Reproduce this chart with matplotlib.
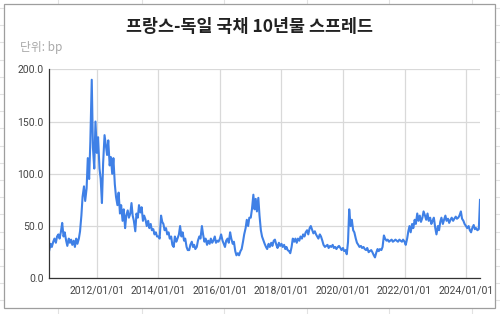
import matplotlib
matplotlib.use("Agg")
import matplotlib.pyplot as plt
import matplotlib.dates as mdates
import pandas as pd
from matplotlib.patches import Rectangle
from matplotlib.lines import Line2D

plt.rcParams['font.family'] = ['Noto Sans CJK KR', 'DejaVu Sans']

title = "프랑스-독일 국채 10년물 스프레드"
unit_label = "단위: bp"

# semi-monthly readings (1st and 15th of each month), starting 2010-06-15, unit: bp
spread_2010 = [27, 33, 30, 35, 38, 34, 40, 42, 38, 45, 53, 40, 44]
spread_2011 = [36, 31, 38, 34, 37, 32, 36, 30, 38, 33, 38, 45,
               60, 78, 88, 74, 86, 115, 95, 130, 190, 125, 105, 150]
spread_2012 = [120, 135, 105, 95, 72, 110, 137, 128, 118, 132, 108, 116,
               100, 115, 90, 78, 70, 82, 62, 70, 55, 66, 48, 60]
spread_2013 = [65, 58, 62, 72, 60, 55, 45, 62, 58, 70, 63, 68,
               55, 60, 56, 50, 55, 48, 52, 46, 47, 42, 44, 40]
spread_2014 = [40, 38, 60, 54, 52, 46, 48, 42, 44, 38, 40, 32,
               30, 40, 35, 38, 42, 50, 40, 44, 36, 38, 30, 27]
spread_2015 = [27, 32, 35, 30, 32, 28, 30, 36, 40, 38, 50, 42,
               35, 38, 32, 36, 33, 38, 34, 36, 40, 34, 36, 35]
spread_2016 = [38, 42, 36, 33, 30, 36, 38, 34, 44, 38, 33, 35,
               26, 22, 24, 22, 26, 28, 35, 42, 48, 56, 50, 58]
spread_2017 = [58, 66, 80, 66, 76, 64, 77, 60, 46, 40, 36, 33,
               30, 28, 33, 30, 34, 31, 36, 37, 32, 29, 34, 31]
spread_2018 = [33, 30, 32, 28, 30, 27, 26, 24, 30, 38, 35, 38,
               34, 38, 36, 40, 38, 42, 40, 44, 46, 42, 48, 50]
spread_2019 = [46, 43, 45, 42, 40, 38, 42, 40, 36, 32, 30, 31,
               32, 29, 31, 30, 32, 29, 30, 28, 30, 31, 29, 27]
spread_2020 = [29, 26, 27, 23, 35, 66, 50, 56, 46, 44, 38, 34,
               32, 30, 31, 29, 30, 28, 27, 29, 25, 26, 27, 25]
spread_2021 = [22, 20, 25, 28, 26, 28, 27, 30, 41, 38, 36, 37,
               35, 36, 37, 35, 36, 37, 36, 35, 37, 36, 35, 37]
spread_2022 = [35, 32, 38, 45, 50, 44, 52, 48, 56, 52, 62, 55,
               60, 54, 58, 64, 60, 56, 62, 55, 58, 52, 55, 58]
spread_2023 = [48, 42, 50, 46, 54, 58, 52, 56, 60, 55, 57, 53,
               56, 58, 55, 57, 59, 57, 58, 60, 64, 57, 55, 52]
spread_2024 = [50, 48, 50, 46, 44, 48, 51, 47, 48, 46, 47, 75]

values = (spread_2010 + spread_2011 + spread_2012 + spread_2013 + spread_2014
          + spread_2015 + spread_2016 + spread_2017 + spread_2018 + spread_2019
          + spread_2020 + spread_2021 + spread_2022 + spread_2023 + spread_2024)
dates = pd.date_range("2010-06-15", periods=len(values), freq="SMS")

tick_years = [2012, 2014, 2016, 2018, 2020, 2022, 2024]
y_ticks = [0, 50, 100, 150, 200]

fig = plt.figure(figsize=(5, 3.14), dpi=100)

# spreadsheet cells behind the chart
sheet_col = "#e2e2e2"
for xp in [58, 142, 224, 307, 389, 472]:
    fig.add_artist(Line2D([xp / 500, xp / 500], [0, 1], color=sheet_col, lw=0.8, zorder=-3))
for k in range(19):
    yp = 8 + k * 17.2
    fig.add_artist(Line2D([0, 1], [1 - yp / 314, 1 - yp / 314], color=sheet_col, lw=0.8, zorder=-3))

# chart card
fig.add_artist(Rectangle((4 / 500, 1 - 308 / 314), 491 / 500, 304 / 314,
                         facecolor="white", edgecolor="#9e9e9e", lw=0.9, zorder=-2))

ax = fig.add_axes([49.3 / 500, 1 - 278.3 / 314, (480 - 49.3) / 500, (278.3 - 69.3) / 314])
ax.set_zorder(1)
ax.patch.set_alpha(0)
ax.plot(dates, values, color="#3f80e6", lw=1.5)

ax.set_ylim(0, 200)
ax.set_xlim(dates[0], dates[-1])
ax.set_yticks(y_ticks)
ax.yaxis.set_major_formatter(matplotlib.ticker.FormatStrFormatter("%.1f"))
ax.set_xticks([pd.Timestamp(f"{y}-01-01") for y in tick_years])
ax.xaxis.set_major_formatter(mdates.DateFormatter("%Y/%m/%d"))

ax.grid(True, color="#d9d9d9", lw=0.9)
ax.set_axisbelow(True)
for s in ["top", "right"]:
    ax.spines[s].set_visible(False)
ax.spines["left"].set_color("#333333")
ax.spines["bottom"].set_color("#333333")
ax.spines["left"].set_linewidth(0.9)
ax.spines["bottom"].set_linewidth(0.9)
ax.tick_params(length=0, labelsize=7.5, colors="#444444", pad=4)
ax.tick_params(axis="x", pad=5)
for lab in ax.get_xticklabels() + ax.get_yticklabels():
    lab.set_family(["Roboto", "DejaVu Sans"])

fig.text(0.5, 1 - 27 / 314, title, ha="center", va="center",
         fontsize=12.5, fontweight="bold", color="#222222")
fig.text(20.5 / 500, 1 - 48 / 314, unit_label, ha="left", va="center",
         fontsize=8.5, color="#a8a8a8")

fig.savefig("out.png", dpi=100)
